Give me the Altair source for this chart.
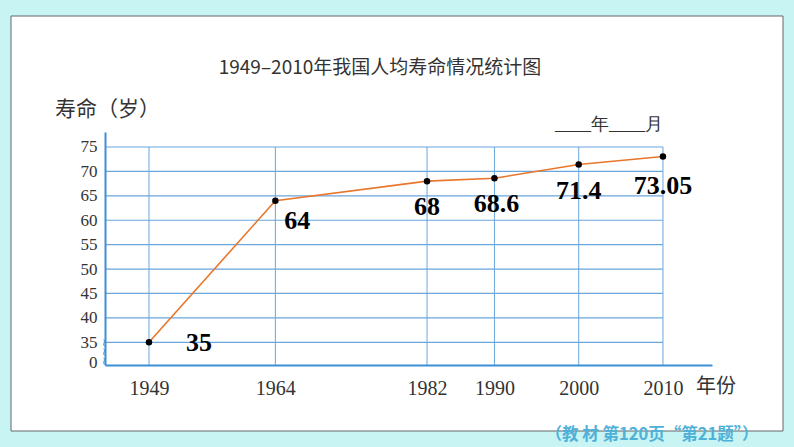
import altair as alt
import pandas as pd

# ---- data ----
years = [1949, 1964, 1982, 1990, 2000, 2010]
life = [35, 64, 68, 68.6, 71.4, 73.05]
value_labels = ["35", "64", "68", "68.6", "71.4", "73.05"]
y_ticks = [35, 40, 45, 50, 55, 60, 65, 70, 75]
x_ticks = [1949, 1964, 1982, 1990, 2000, 2010]

title_text = "1949–2010年我国人均寿命情况统计图"
y_title = "寿命（岁）"
x_title = "年份"
date_text = "____年____月"
footer_text = "（教 材 第120页“第21题”）"

# ---- style / layout ----
X_MIN, X_MAX = 1943.78, 2015.82
Y_MIN, Y_MAX = 30.35, 78.07
ZERO_POS = 30.8
BLUE = "#3d8fd6"
GRID = "#6aa6dc"
ORANGE = "#e8762c"
SERIF = "Liberation Serif"
CJK = "Noto Sans CJK SC"
# label offsets (dx, dy) in pixels, per point
label_offsets = [(50, 1), (22, 20), (0, 26), (2, 26), (0, 26), (0, 29)]

df = pd.DataFrame({"year": years, "life": life, "label": value_labels})
xs = alt.Scale(domain=[X_MIN, X_MAX], nice=False, zero=False)
ys = alt.Scale(domain=[Y_MIN, Y_MAX], nice=False, zero=False)

x_axis = alt.Axis(
    values=x_ticks, format="d", title=None, ticks=False, grid=False,
    domainColor=BLUE, domainWidth=2, labelFont=SERIF, labelFontSize=20,
    labelColor="#333333", labelPadding=13, zindex=1, labelOverlap=False,
)
y_axis = alt.Axis(
    values=[ZERO_POS] + y_ticks, title=None, ticks=False, grid=False,
    domainColor=BLUE, domainWidth=2, labelFont=SERIF, labelFontSize=17,
    labelColor="#333333", labelPadding=8, zindex=1, labelOverlap=False,
    labelExpr="datum.value < 34 ? '0' : datum.label",
)

one = pd.DataFrame({"a": [0]})

panel = alt.Chart(one).mark_rect(fill="white", stroke="#666666", strokeWidth=1).encode(
    x=alt.value(-94), x2=alt.value(678), y=alt.value(-116), y2=alt.value(299)
)

hgrid_df = pd.DataFrame({"v": y_ticks, "x0": X_MIN, "x1": x_ticks[-1]})
vgrid_df = pd.DataFrame({"v": x_ticks, "y0": Y_MIN, "y1": y_ticks[-1]})

hgrid = alt.Chart(hgrid_df).mark_rule(color=GRID, strokeWidth=1.2).encode(
    y=alt.Y("v:Q", scale=ys, axis=y_axis),
    x=alt.X("x0:Q", scale=xs, axis=x_axis),
    x2="x1:Q",
)
vgrid = alt.Chart(vgrid_df).mark_rule(color=GRID, strokeWidth=1).encode(
    x=alt.X("v:Q", scale=xs, axis=x_axis),
    y=alt.Y("y0:Q", scale=ys, axis=y_axis),
    y2="y1:Q",
)

base = alt.Chart(df).encode(
    x=alt.X("year:Q", scale=xs, axis=x_axis),
    y=alt.Y("life:Q", scale=ys, axis=y_axis),
)

line = base.mark_line(color=ORANGE, strokeWidth=1.6)
pts = base.mark_point(filled=True, color="black", size=42, opacity=1)

label_layers = []
for i, (dx, dy) in enumerate(label_offsets):
    label_layers.append(
        alt.Chart(df.iloc[[i]]).mark_text(
            font=SERIF, fontSize=26, fontWeight="bold", color="black",
            dx=dx, dy=dy, baseline="middle", align="center",
        ).encode(
            x=alt.X("year:Q", scale=xs, axis=x_axis),
            y=alt.Y("life:Q", scale=ys, axis=y_axis),
            text="label:N",
        )
    )


def deco(text, x, y, font, size, color="#333333", weight="normal", align="center", angle=0):
    return alt.Chart(pd.DataFrame({"t": [text]})).mark_text(
        font=font, fontSize=size, color=color, fontWeight=weight,
        align=align, baseline="middle", angle=angle,
    ).encode(x=alt.value(x), y=alt.value(y), text="t:N")


decos = [
    deco(title_text, 275, -64, CJK, 19),
    deco(y_title, -50, -22, CJK, 21, align="left"),
    deco(date_text, 450, -7, SERIF, 18, align="left"),
    deco(x_title, 611, 255, CJK, 20),
    deco(footer_text, 547, 303, CJK, 16.5, color="#4fb0d8", weight="bold"),
    deco("~~~", -2, 220, "DejaVu Sans", 11, color=BLUE, angle=90),
]

chart = alt.layer(panel, hgrid, vgrid, line, pts, *label_layers, *decos).properties(
    width=607,
    height=233,
    padding={"left": 105, "top": 132, "right": 82, "bottom": 82},
    autosize=alt.AutoSizeParams(type="none"),
    background="#c8f4f4",
).configure_view(stroke=None)

chart.save("out.html", embed_options={"renderer": "svg", "actions": False})
